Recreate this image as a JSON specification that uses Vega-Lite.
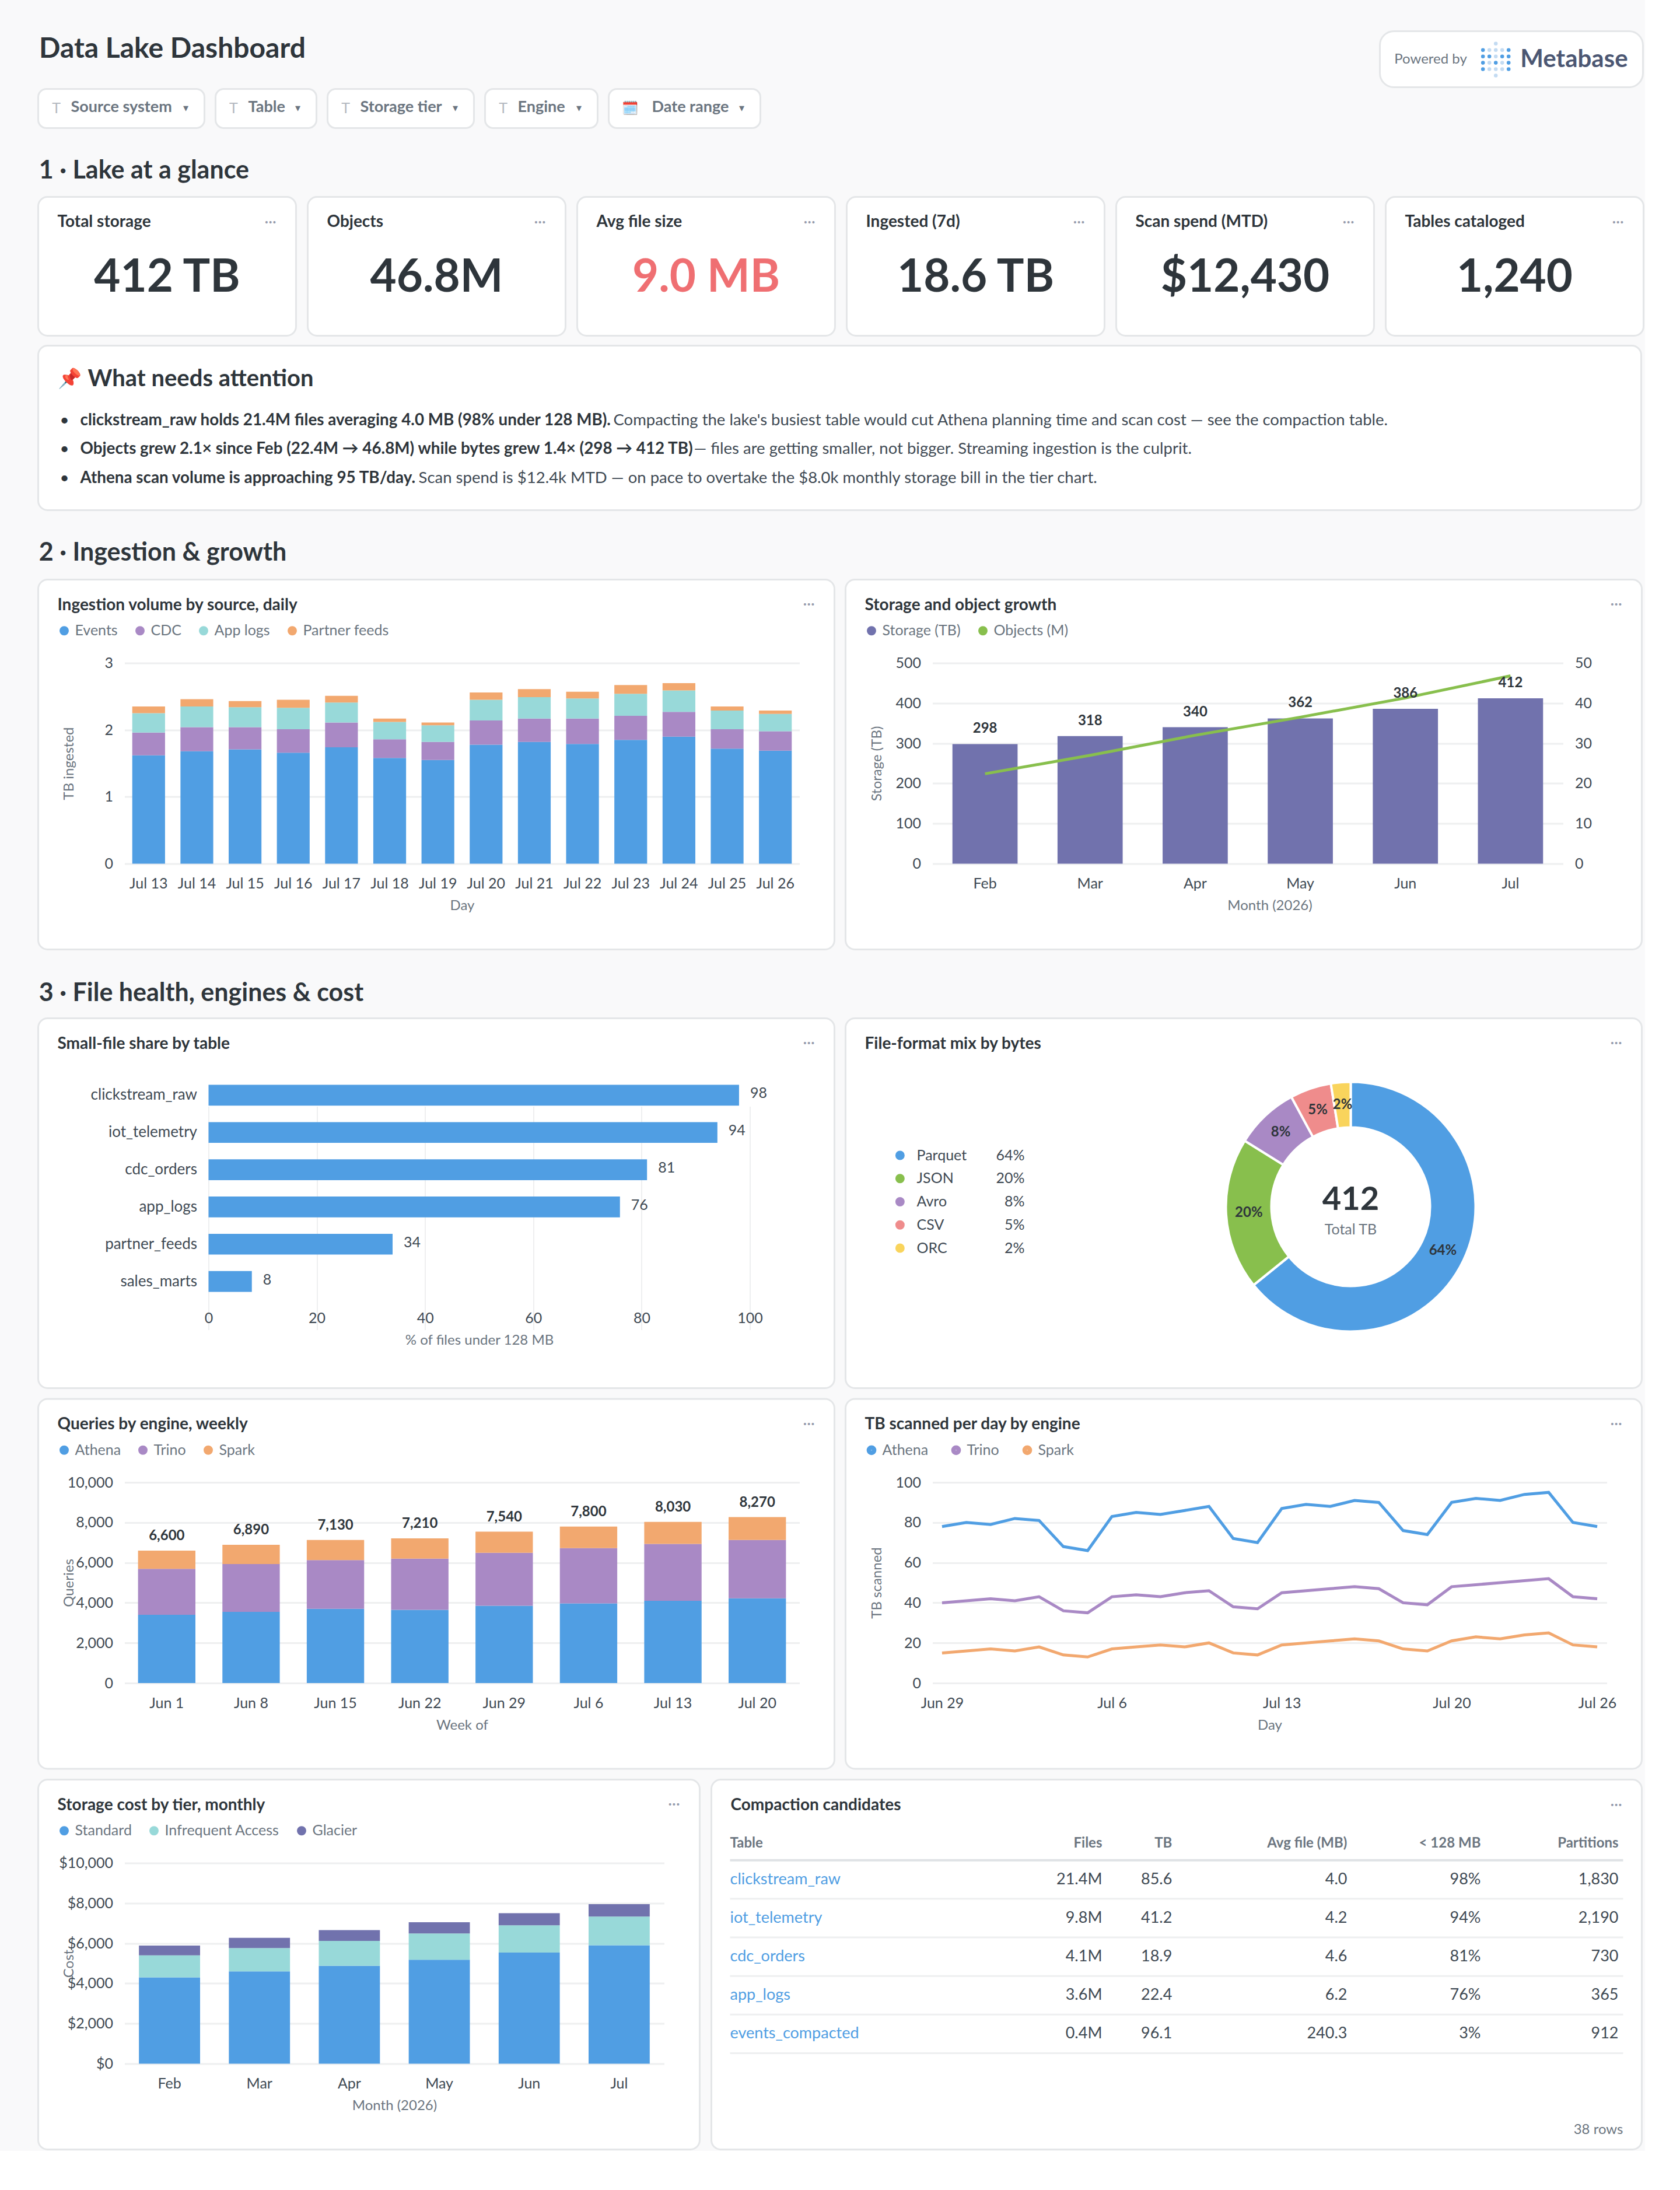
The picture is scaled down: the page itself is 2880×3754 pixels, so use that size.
{
  "$schema": "https://vega.github.io/schema/vega-lite/v6.json",
  "background": "#f9f9fa",
  "padding": {"left": 63.5, "top": 51.5, "right": 0, "bottom": 0},
  "config": {
    "font": "Lato",
    "view": {"stroke": null},
    "text": {"font": "Lato"},
    "title": {"font": "Lato", "anchor": "start", "frame": "group", "offset": 0, "baseline": "middle", "dx": 33, "fontSize": 28, "fontWeight": 700, "color": "#2e353b"},
    "axis": {"domain": false, "ticks": false, "labelFont": "Lato", "labelFontSize": 25, "labelColor": "#3f4a54", "titleFont": "Lato", "titleFontSize": 24, "titleFontWeight": "normal", "titleColor": "#6b7580", "gridColor": "#eeeff0", "gridWidth": 3, "labelOverlap": false, "labelFlush": false, "labelLimit": 400},
    "axisX": {"labelPadding": 22, "titlePadding": 13, "labelAngle": 0, "grid": false},
    "axisY": {"labelPadding": 20, "titleX": -95, "titleBaseline": "middle", "grid": true},
    "legend": {"symbolType": "circle", "symbolSize": 254, "labelFont": "Lato", "labelFontSize": 25, "labelColor": "#6b7580", "labelOffset": 6, "labelLimit": 400, "columnPadding": 25, "padding": 0}
  },
  "spacing": 0,
  "resolve": {"scale": {"color": "independent"}, "legend": {"color": "independent"}},
  "vconcat": [
    {
      "spacing": 0,
      "resolve": {"scale": {"color": "independent"}, "legend": {"color": "independent"}},
      "hconcat": [
        {
          "spacing": 0,
          "vconcat": [
            {
              "width": 2298,
              "height": 97,
              "data": {"values": [{"label": "Data Lake Dashboard"}]},
              "mark": {"type": "text", "align": "left", "fontSize": 48, "fontWeight": 700, "color": "#2e353b"},
              "encoding": {
                "text": {"field": "label"},
                "x": {"datum": 0.00065, "scale": {"domain": [0, 1], "range": [0, 2298]}, "axis": null},
                "y": {"datum": 0.325, "scale": {"domain": [0, 1], "range": [0, 97]}, "axis": null}
              }
            },
            {
              "spacing": 15,
              "hconcat": [
                {
                  "title": {"text": "Source system", "dx": 56, "dy": 49, "fontSize": 27, "color": "#6b7580"},
                  "width": 285,
                  "height": 67,
                  "view": {"fill": "#ffffff", "stroke": "#e4e6e8", "strokeWidth": 3, "cornerRadius": 14},
                  "data": {"values": [{"t": "T", "c": "▾"}]},
                  "encoding": {"y": {"datum": 0.5, "scale": {"domain": [0, 1], "range": [0, 67]}, "axis": null}},
                  "layer": [
                    {"mark": {"type": "text", "fontSize": 25, "color": "#b4b9c0"}, "encoding": {"text": {"field": "t"}, "x": {"datum": 0.109, "scale": {"domain": [0, 1], "range": [0, 285]}, "axis": null}}},
                    {"mark": {"type": "text", "fontSize": 18, "color": "#6b7580"}, "encoding": {"text": {"field": "c"}, "x": {"datum": 0.888}}}
                  ]
                },
                {
                  "title": {"text": "Table", "dx": 56, "dy": 49, "fontSize": 27, "color": "#6b7580"},
                  "width": 173,
                  "height": 67,
                  "view": {"fill": "#ffffff", "stroke": "#e4e6e8", "strokeWidth": 3, "cornerRadius": 14},
                  "data": {"values": [{"t": "T", "c": "▾"}]},
                  "encoding": {"y": {"datum": 0.5, "scale": {"domain": [0, 1], "range": [0, 67]}, "axis": null}},
                  "layer": [
                    {"mark": {"type": "text", "fontSize": 25, "color": "#b4b9c0"}, "encoding": {"text": {"field": "t"}, "x": {"datum": 0.179, "scale": {"domain": [0, 1], "range": [0, 173]}, "axis": null}}},
                    {"mark": {"type": "text", "fontSize": 18, "color": "#6b7580"}, "encoding": {"text": {"field": "c"}, "x": {"datum": 0.815}}}
                  ]
                },
                {
                  "title": {"text": "Storage tier", "dx": 56, "dy": 49, "fontSize": 27, "color": "#6b7580"},
                  "width": 251,
                  "height": 67,
                  "view": {"fill": "#ffffff", "stroke": "#e4e6e8", "strokeWidth": 3, "cornerRadius": 14},
                  "data": {"values": [{"t": "T", "c": "▾"}]},
                  "encoding": {"y": {"datum": 0.5, "scale": {"domain": [0, 1], "range": [0, 67]}, "axis": null}},
                  "layer": [
                    {"mark": {"type": "text", "fontSize": 25, "color": "#b4b9c0"}, "encoding": {"text": {"field": "t"}, "x": {"datum": 0.124, "scale": {"domain": [0, 1], "range": [0, 251]}, "axis": null}}},
                    {"mark": {"type": "text", "fontSize": 18, "color": "#6b7580"}, "encoding": {"text": {"field": "c"}, "x": {"datum": 0.873}}}
                  ]
                },
                {
                  "title": {"text": "Engine", "dx": 56, "dy": 49, "fontSize": 27, "color": "#6b7580"},
                  "width": 193,
                  "height": 67,
                  "view": {"fill": "#ffffff", "stroke": "#e4e6e8", "strokeWidth": 3, "cornerRadius": 14},
                  "data": {"values": [{"t": "T", "c": "▾"}]},
                  "encoding": {"y": {"datum": 0.5, "scale": {"domain": [0, 1], "range": [0, 67]}, "axis": null}},
                  "layer": [
                    {"mark": {"type": "text", "fontSize": 25, "color": "#b4b9c0"}, "encoding": {"text": {"field": "t"}, "x": {"datum": 0.161, "scale": {"domain": [0, 1], "range": [0, 193]}, "axis": null}}},
                    {"mark": {"type": "text", "fontSize": 18, "color": "#6b7580"}, "encoding": {"text": {"field": "c"}, "x": {"datum": 0.834}}}
                  ]
                },
                {
                  "title": {"text": "Date range", "dx": 74, "dy": 49, "fontSize": 27, "color": "#6b7580"},
                  "width": 260,
                  "height": 67,
                  "view": {"fill": "#ffffff", "stroke": "#e4e6e8", "strokeWidth": 3, "cornerRadius": 14},
                  "data": {"values": [{"t": "🗓️", "c": "▾"}]},
                  "encoding": {"y": {"datum": 0.5, "scale": {"domain": [0, 1], "range": [0, 67]}, "axis": null}},
                  "layer": [
                    {"mark": {"type": "text", "fontSize": 23}, "encoding": {"text": {"field": "t"}, "x": {"datum": 0.142, "scale": {"domain": [0, 1], "range": [0, 260]}, "axis": null}}},
                    {"mark": {"type": "text", "fontSize": 18, "color": "#6b7580"}, "encoding": {"text": {"field": "c"}, "x": {"datum": 0.877}}}
                  ]
                }
              ]
            }
          ]
        },
        {
          "width": 451,
          "height": 96,
          "view": {"fill": "#ffffff", "stroke": "#e4e6e8", "strokeWidth": 3, "cornerRadius": 24},
          "resolve": {"scale": {"x": "independent", "y": "independent"}},
          "layer": [
            {
              "data": {"values": [
                {"col": 2, "row": 0, "shade": "light"},
                {"col": 0, "row": 1, "shade": "dark"}, {"col": 1, "row": 1, "shade": "light"}, {"col": 2, "row": 1, "shade": "light"}, {"col": 3, "row": 1, "shade": "light"}, {"col": 4, "row": 1, "shade": "dark"},
                {"col": 0, "row": 2, "shade": "dark"}, {"col": 1, "row": 2, "shade": "dark"}, {"col": 2, "row": 2, "shade": "light"}, {"col": 3, "row": 2, "shade": "dark"}, {"col": 4, "row": 2, "shade": "dark"},
                {"col": 0, "row": 3, "shade": "dark"}, {"col": 1, "row": 3, "shade": "light"}, {"col": 2, "row": 3, "shade": "dark"}, {"col": 3, "row": 3, "shade": "light"}, {"col": 4, "row": 3, "shade": "dark"},
                {"col": 0, "row": 4, "shade": "dark"}, {"col": 1, "row": 4, "shade": "light"}, {"col": 2, "row": 4, "shade": "light"}, {"col": 3, "row": 4, "shade": "light"}, {"col": 4, "row": 4, "shade": "dark"},
                {"col": 2, "row": 5, "shade": "light"}
              ]},
              "mark": {"type": "point", "filled": true, "size": 43, "opacity": 1},
              "encoding": {
                "x": {"field": "col", "type": "quantitative", "scale": {"domain": [0, 4], "range": [176.7, 220.7]}, "axis": null},
                "y": {"field": "row", "type": "quantitative", "scale": {"domain": [0, 5], "range": [21.3, 76]}, "axis": null},
                "color": {"field": "shade", "type": "nominal", "scale": {"domain": ["dark", "light"], "range": ["#509ee3", "#c3dbf2"]}, "legend": null}
              }
            },
            {
              "data": {"values": [{"a": "Powered by", "b": "Metabase"}]},
              "encoding": {"y": {"datum": 0.51, "scale": {"domain": [0, 1], "range": [0, 96]}, "axis": null}},
              "layer": [
                {"mark": {"type": "text", "fontSize": 24, "color": "#6b7580"}, "encoding": {"text": {"field": "a"}, "x": {"datum": 0.193, "scale": {"domain": [0, 1], "range": [0, 451]}, "axis": null}}},
                {"mark": {"type": "text", "align": "left", "fontSize": 42, "fontWeight": 700, "color": "#4c5773"}, "encoding": {"text": {"field": "b"}, "x": {"datum": 0.534}}}
              ]
            }
          ]
        }
      ]
    },
    {
      "width": 2748,
      "height": 114,
      "data": {"values": [{"label": "1 · Lake at a glance"}]},
      "mark": {"type": "text", "align": "left", "fontSize": 43, "fontWeight": 700, "color": "#2e353b"},
      "encoding": {
        "text": {"field": "label"},
        "x": {"datum": 0.0005, "scale": {"domain": [0, 1], "range": [0, 2748]}, "axis": null},
        "y": {"datum": 0.627, "scale": {"domain": [0, 1], "range": [0, 114]}, "axis": null}
      }
    },
    {
      "spacing": 13,
      "vconcat": [
        {
          "spacing": 16,
          "hconcat": [
            {
              "title": {"text": "Total storage", "dy": 61},
              "width": 442, "height": 238,
              "view": {"fill": "#ffffff", "stroke": "#e4e6e8", "strokeWidth": 3, "cornerRadius": 16},
              "data": {"values": [{"value": "412 TB", "menu": "···"}]},
              "layer": [
                {"mark": {"type": "text", "fontSize": 78, "fontWeight": 700, "color": "#2e353b"}, "encoding": {"text": {"field": "value"}, "x": {"datum": 0.5, "scale": {"domain": [0, 1], "range": [0, 442]}, "axis": null}, "y": {"datum": 0.585, "scale": {"domain": [0, 1], "range": [0, 238]}, "axis": null}}},
                {"mark": {"type": "text", "fontSize": 26, "color": "#949aab"}, "encoding": {"text": {"field": "menu"}, "x": {"datum": 0.9005}, "y": {"datum": 0.1807}}}
              ]
            },
            {
              "title": {"text": "Objects", "dy": 61},
              "width": 442, "height": 238,
              "view": {"fill": "#ffffff", "stroke": "#e4e6e8", "strokeWidth": 3, "cornerRadius": 16},
              "data": {"values": [{"value": "46.8M", "menu": "···"}]},
              "layer": [
                {"mark": {"type": "text", "fontSize": 78, "fontWeight": 700, "color": "#2e353b"}, "encoding": {"text": {"field": "value"}, "x": {"datum": 0.5, "scale": {"domain": [0, 1], "range": [0, 442]}, "axis": null}, "y": {"datum": 0.585, "scale": {"domain": [0, 1], "range": [0, 238]}, "axis": null}}},
                {"mark": {"type": "text", "fontSize": 26, "color": "#949aab"}, "encoding": {"text": {"field": "menu"}, "x": {"datum": 0.9005}, "y": {"datum": 0.1807}}}
              ]
            },
            {
              "title": {"text": "Avg file size", "dy": 61},
              "width": 442, "height": 238,
              "view": {"fill": "#ffffff", "stroke": "#e4e6e8", "strokeWidth": 3, "cornerRadius": 16},
              "data": {"values": [{"value": "9.0 MB", "menu": "···"}]},
              "layer": [
                {"mark": {"type": "text", "fontSize": 78, "fontWeight": 700, "color": "#ef6f72"}, "encoding": {"text": {"field": "value"}, "x": {"datum": 0.5, "scale": {"domain": [0, 1], "range": [0, 442]}, "axis": null}, "y": {"datum": 0.585, "scale": {"domain": [0, 1], "range": [0, 238]}, "axis": null}}},
                {"mark": {"type": "text", "fontSize": 26, "color": "#949aab"}, "encoding": {"text": {"field": "menu"}, "x": {"datum": 0.9005}, "y": {"datum": 0.1807}}}
              ]
            },
            {
              "title": {"text": "Ingested (7d)", "dy": 61},
              "width": 442, "height": 238,
              "view": {"fill": "#ffffff", "stroke": "#e4e6e8", "strokeWidth": 3, "cornerRadius": 16},
              "data": {"values": [{"value": "18.6 TB", "menu": "···"}]},
              "layer": [
                {"mark": {"type": "text", "fontSize": 78, "fontWeight": 700, "color": "#2e353b"}, "encoding": {"text": {"field": "value"}, "x": {"datum": 0.5, "scale": {"domain": [0, 1], "range": [0, 442]}, "axis": null}, "y": {"datum": 0.585, "scale": {"domain": [0, 1], "range": [0, 238]}, "axis": null}}},
                {"mark": {"type": "text", "fontSize": 26, "color": "#949aab"}, "encoding": {"text": {"field": "menu"}, "x": {"datum": 0.9005}, "y": {"datum": 0.1807}}}
              ]
            },
            {
              "title": {"text": "Scan spend (MTD)", "dy": 61},
              "width": 442, "height": 238,
              "view": {"fill": "#ffffff", "stroke": "#e4e6e8", "strokeWidth": 3, "cornerRadius": 16},
              "data": {"values": [{"value": "$12,430", "menu": "···"}]},
              "layer": [
                {"mark": {"type": "text", "fontSize": 78, "fontWeight": 700, "color": "#2e353b"}, "encoding": {"text": {"field": "value"}, "x": {"datum": 0.5, "scale": {"domain": [0, 1], "range": [0, 442]}, "axis": null}, "y": {"datum": 0.585, "scale": {"domain": [0, 1], "range": [0, 238]}, "axis": null}}},
                {"mark": {"type": "text", "fontSize": 26, "color": "#949aab"}, "encoding": {"text": {"field": "menu"}, "x": {"datum": 0.9005}, "y": {"datum": 0.1807}}}
              ]
            },
            {
              "title": {"text": "Tables cataloged", "dy": 61},
              "width": 442, "height": 238,
              "view": {"fill": "#ffffff", "stroke": "#e4e6e8", "strokeWidth": 3, "cornerRadius": 16},
              "data": {"values": [{"value": "1,240", "menu": "···"}]},
              "layer": [
                {"mark": {"type": "text", "fontSize": 78, "fontWeight": 700, "color": "#2e353b"}, "encoding": {"text": {"field": "value"}, "x": {"datum": 0.5, "scale": {"domain": [0, 1], "range": [0, 442]}, "axis": null}, "y": {"datum": 0.585, "scale": {"domain": [0, 1], "range": [0, 238]}, "axis": null}}},
                {"mark": {"type": "text", "fontSize": 26, "color": "#949aab"}, "encoding": {"text": {"field": "menu"}, "x": {"datum": 0.9005}, "y": {"datum": 0.1807}}}
              ]
            }
          ]
        },
        {
          "title": {"text": "What needs attention", "dx": 85, "dy": 81, "fontSize": 40, "fontWeight": 700},
          "width": 2748, "height": 282,
          "view": {"fill": "#ffffff", "stroke": "#e4e6e8", "strokeWidth": 3, "cornerRadius": 16},
          "data": {"values": [
            {"line": 1, "bullet": "•", "lead": "clickstream_raw holds 21.4M files averaging 4.0 MB (98% under 128 MB).", "rest": "Compacting the lake's busiest table would cut Athena planning time and scan cost — see the compaction table."},
            {"line": 2, "bullet": "•", "lead": "Objects grew 2.1× since Feb (22.4M → 46.8M) while bytes grew 1.4× (298 → 412 TB)", "rest": "— files are getting smaller, not bigger. Streaming ingestion is the culprit."},
            {"line": 3, "bullet": "•", "lead": "Athena scan volume is approaching 95 TB/day.", "rest": "Scan spend is $12.4k MTD — on pace to overtake the $8.0k monthly storage bill in the tier chart."}
          ]},
          "encoding": {"y": {"field": "line", "type": "ordinal", "scale": {"type": "point", "padding": 0, "range": [128, 227]}, "axis": null}},
          "layer": [
            {"transform": [{"filter": {"field": "line", "equal": 1}}], "mark": {"type": "text", "text": "📌", "dy": -71, "fontSize": 33}, "encoding": {"x": {"datum": 0.0197, "scale": {"domain": [0, 1], "range": [0, 2748]}, "axis": null}}},
            {"mark": {"type": "text", "fontSize": 27.7, "color": "#2e353b"}, "encoding": {"text": {"field": "bullet"}, "x": {"datum": 0.0164}}},
            {"mark": {"type": "text", "align": "left", "fontSize": 27.8, "fontWeight": 700, "color": "#2e353b"}, "encoding": {"text": {"field": "lead"}, "x": {"datum": 0.0262}}},
            {"transform": [{"filter": {"field": "line", "equal": 1}}], "mark": {"type": "text", "align": "left", "fontSize": 27.5, "color": "#3f4a54"}, "encoding": {"text": {"field": "rest"}, "x": {"datum": 0.3588}}},
            {"transform": [{"filter": {"field": "line", "equal": 2}}], "mark": {"type": "text", "align": "left", "fontSize": 27.5, "color": "#3f4a54"}, "encoding": {"text": {"field": "rest"}, "x": {"datum": 0.409}}},
            {"transform": [{"filter": {"field": "line", "equal": 3}}], "mark": {"type": "text", "align": "left", "fontSize": 27.5, "color": "#3f4a54"}, "encoding": {"text": {"field": "rest"}, "x": {"datum": 0.2373}}}
          ]
        }
      ]
    },
    {
      "width": 2748,
      "height": 115,
      "data": {"values": [{"label": "2 · Ingestion & growth"}]},
      "mark": {"type": "text", "align": "left", "fontSize": 43, "fontWeight": 700, "color": "#2e353b"},
      "encoding": {
        "text": {"field": "label"},
        "x": {"datum": 0.0005, "scale": {"domain": [0, 1], "range": [0, 2748]}, "axis": null},
        "y": {"datum": 0.626, "scale": {"domain": [0, 1], "range": [0, 115]}, "axis": null}
      }
    },
    {
      "spacing": 15,
      "resolve": {"scale": {"color": "independent"}, "legend": {"color": "independent"}},
      "hconcat": [
        {
          "title": {"text": "Ingestion volume by source, daily", "dy": 62},
          "width": 1365, "height": 634,
          "view": {"fill": "#ffffff", "stroke": "#e4e6e8", "strokeWidth": 3, "cornerRadius": 16},
          "resolve": {"scale": {"x": "independent", "y": "independent"}},
          "layer": [
            {
              "data": {"values": [
                {"day": "Jul 13", "source": "Events", "tb": 1.62, "o": 1}, {"day": "Jul 13", "source": "CDC", "tb": 0.34, "o": 2}, {"day": "Jul 13", "source": "App logs", "tb": 0.29, "o": 3}, {"day": "Jul 13", "source": "Partner feeds", "tb": 0.10, "o": 4},
                {"day": "Jul 14", "source": "Events", "tb": 1.68, "o": 1}, {"day": "Jul 14", "source": "CDC", "tb": 0.36, "o": 2}, {"day": "Jul 14", "source": "App logs", "tb": 0.31, "o": 3}, {"day": "Jul 14", "source": "Partner feeds", "tb": 0.11, "o": 4},
                {"day": "Jul 15", "source": "Events", "tb": 1.71, "o": 1}, {"day": "Jul 15", "source": "CDC", "tb": 0.33, "o": 2}, {"day": "Jul 15", "source": "App logs", "tb": 0.30, "o": 3}, {"day": "Jul 15", "source": "Partner feeds", "tb": 0.09, "o": 4},
                {"day": "Jul 16", "source": "Events", "tb": 1.66, "o": 1}, {"day": "Jul 16", "source": "CDC", "tb": 0.35, "o": 2}, {"day": "Jul 16", "source": "App logs", "tb": 0.32, "o": 3}, {"day": "Jul 16", "source": "Partner feeds", "tb": 0.12, "o": 4},
                {"day": "Jul 17", "source": "Events", "tb": 1.74, "o": 1}, {"day": "Jul 17", "source": "CDC", "tb": 0.37, "o": 2}, {"day": "Jul 17", "source": "App logs", "tb": 0.30, "o": 3}, {"day": "Jul 17", "source": "Partner feeds", "tb": 0.10, "o": 4},
                {"day": "Jul 18", "source": "Events", "tb": 1.58, "o": 1}, {"day": "Jul 18", "source": "CDC", "tb": 0.28, "o": 2}, {"day": "Jul 18", "source": "App logs", "tb": 0.26, "o": 3}, {"day": "Jul 18", "source": "Partner feeds", "tb": 0.05, "o": 4},
                {"day": "Jul 19", "source": "Events", "tb": 1.55, "o": 1}, {"day": "Jul 19", "source": "CDC", "tb": 0.27, "o": 2}, {"day": "Jul 19", "source": "App logs", "tb": 0.25, "o": 3}, {"day": "Jul 19", "source": "Partner feeds", "tb": 0.04, "o": 4},
                {"day": "Jul 20", "source": "Events", "tb": 1.78, "o": 1}, {"day": "Jul 20", "source": "CDC", "tb": 0.36, "o": 2}, {"day": "Jul 20", "source": "App logs", "tb": 0.31, "o": 3}, {"day": "Jul 20", "source": "Partner feeds", "tb": 0.11, "o": 4},
                {"day": "Jul 21", "source": "Events", "tb": 1.82, "o": 1}, {"day": "Jul 21", "source": "CDC", "tb": 0.35, "o": 2}, {"day": "Jul 21", "source": "App logs", "tb": 0.32, "o": 3}, {"day": "Jul 21", "source": "Partner feeds", "tb": 0.12, "o": 4},
                {"day": "Jul 22", "source": "Events", "tb": 1.79, "o": 1}, {"day": "Jul 22", "source": "CDC", "tb": 0.38, "o": 2}, {"day": "Jul 22", "source": "App logs", "tb": 0.30, "o": 3}, {"day": "Jul 22", "source": "Partner feeds", "tb": 0.10, "o": 4},
                {"day": "Jul 23", "source": "Events", "tb": 1.85, "o": 1}, {"day": "Jul 23", "source": "CDC", "tb": 0.36, "o": 2}, {"day": "Jul 23", "source": "App logs", "tb": 0.33, "o": 3}, {"day": "Jul 23", "source": "Partner feeds", "tb": 0.13, "o": 4},
                {"day": "Jul 24", "source": "Events", "tb": 1.90, "o": 1}, {"day": "Jul 24", "source": "CDC", "tb": 0.37, "o": 2}, {"day": "Jul 24", "source": "App logs", "tb": 0.32, "o": 3}, {"day": "Jul 24", "source": "Partner feeds", "tb": 0.11, "o": 4},
                {"day": "Jul 25", "source": "Events", "tb": 1.72, "o": 1}, {"day": "Jul 25", "source": "CDC", "tb": 0.29, "o": 2}, {"day": "Jul 25", "source": "App logs", "tb": 0.28, "o": 3}, {"day": "Jul 25", "source": "Partner feeds", "tb": 0.06, "o": 4},
                {"day": "Jul 26", "source": "Events", "tb": 1.69, "o": 1}, {"day": "Jul 26", "source": "CDC", "tb": 0.29, "o": 2}, {"day": "Jul 26", "source": "App logs", "tb": 0.26, "o": 3}, {"day": "Jul 26", "source": "Partner feeds", "tb": 0.05, "o": 4}
              ]},
              "mark": {"type": "bar"},
              "encoding": {
                "x": {"field": "day", "type": "nominal", "sort": null, "title": "Day", "scale": {"range": [148, 1305], "paddingInner": 0.32, "paddingOuter": 0.16}, "axis": {"offset": -147}},
                "y": {"field": "tb", "type": "quantitative", "title": "TB ingested", "scale": {"domain": [0, 3], "range": [487, 143]}, "axis": {"values": [0, 1, 2, 3], "offset": -148}},
                "color": {"field": "source", "type": "nominal", "scale": {"domain": ["Events", "CDC", "App logs", "Partner feeds"], "range": ["#509ee3", "#a989c5", "#98d9d9", "#f2a86f"]}, "legend": {"title": null, "orient": "none", "direction": "horizontal", "legendX": 32, "legendY": 75}},
                "order": {"field": "o"}
              }
            },
            {
              "data": {"values": [{"menu": "···"}]},
              "mark": {"type": "text", "fontSize": 26, "color": "#949aab"},
              "encoding": {
                "text": {"field": "menu"},
                "x": {"datum": 0.9678, "scale": {"domain": [0, 1], "range": [0, 1365]}, "axis": null},
                "y": {"datum": 0.0678, "scale": {"domain": [0, 1], "range": [0, 634]}, "axis": null}
              }
            }
          ]
        },
        {
          "title": {"text": "Storage and object growth", "dy": 62},
          "width": 1365, "height": 634,
          "view": {"fill": "#ffffff", "stroke": "#e4e6e8", "strokeWidth": 3, "cornerRadius": 16},
          "resolve": {"scale": {"x": "independent", "y": "independent"}},
          "layer": [
            {
              "data": {"values": [
                {"month": "Feb", "storage": 298, "objects": 22.4},
                {"month": "Mar", "storage": 318, "objects": 27},
                {"month": "Apr", "storage": 340, "objects": 32},
                {"month": "May", "storage": 362, "objects": 36.5},
                {"month": "Jun", "storage": 386, "objects": 41.3},
                {"month": "Jul", "storage": 412, "objects": 46.8}
              ]},
              "encoding": {
                "x": {"field": "month", "type": "nominal", "sort": null, "title": "Month (2026)", "scale": {"range": [149, 1230], "paddingInner": 0.38, "paddingOuter": 0.19}, "axis": {"offset": -147, "titleX": 727}}
              },
              "resolve": {"scale": {"y": "independent"}},
              "layer": [
                {
                  "mark": {"type": "bar"},
                  "encoding": {
                    "y": {"field": "storage", "type": "quantitative", "title": "Storage (TB)", "scale": {"domain": [0, 500], "range": [487, 143]}, "axis": {"values": [0, 100, 200, 300, 400, 500], "offset": -149}},
                    "color": {"datum": "Storage (TB)", "scale": {"domain": ["Storage (TB)", "Objects (M)"], "range": ["#7172ad", "#88bf4d"]}, "legend": {"title": null, "orient": "none", "direction": "horizontal", "legendX": 32, "legendY": 75}}
                  }
                },
                {
                  "mark": {"type": "line", "stroke": "#88bf4d", "strokeWidth": 5},
                  "encoding": {
                    "y": {"field": "objects", "type": "quantitative", "title": null, "scale": {"domain": [0, 50], "range": [487, 143]}, "axis": {"orient": "right", "values": [0, 10, 20, 30, 40, 50], "offset": -135, "grid": false}}
                  }
                },
                {
                  "mark": {"type": "text", "dy": -26, "fontSize": 24, "fontWeight": 700, "color": "#2e353b"},
                  "encoding": {
                    "y": {"field": "storage", "type": "quantitative", "scale": {"domain": [0, 500], "range": [487, 143]}, "axis": null},
                    "text": {"field": "storage"}
                  }
                }
              ]
            },
            {
              "data": {"values": [{"menu": "···"}]},
              "mark": {"type": "text", "fontSize": 26, "color": "#949aab"},
              "encoding": {
                "text": {"field": "menu"},
                "x": {"datum": 0.9678, "scale": {"domain": [0, 1], "range": [0, 1365]}, "axis": null},
                "y": {"datum": 0.0678, "scale": {"domain": [0, 1], "range": [0, 634]}, "axis": null}
              }
            }
          ]
        }
      ]
    },
    {
      "width": 2748,
      "height": 114,
      "data": {"values": [{"label": "3 · File health, engines & cost"}]},
      "mark": {"type": "text", "align": "left", "fontSize": 43, "fontWeight": 700, "color": "#2e353b"},
      "encoding": {
        "text": {"field": "label"},
        "x": {"datum": 0.0005, "scale": {"domain": [0, 1], "range": [0, 2748]}, "axis": null},
        "y": {"datum": 0.649, "scale": {"domain": [0, 1], "range": [0, 114]}, "axis": null}
      }
    },
    {
      "spacing": 14.5,
      "resolve": {"scale": {"color": "independent"}, "legend": {"color": "independent"}},
      "vconcat": [
        {
          "spacing": 15,
          "resolve": {"scale": {"color": "independent"}, "legend": {"color": "independent"}},
          "hconcat": [
            {
              "title": {"text": "Small-file share by table", "dy": 62},
              "width": 1365, "height": 634,
              "view": {"fill": "#ffffff", "stroke": "#e4e6e8", "strokeWidth": 3, "cornerRadius": 16},
              "resolve": {"scale": {"x": "independent", "y": "independent"}},
              "layer": [
                {
                  "data": {"values": [
                    {"table": "clickstream_raw", "share": 98},
                    {"table": "iot_telemetry", "share": 94},
                    {"table": "cdc_orders", "share": 81},
                    {"table": "app_logs", "share": 76},
                    {"table": "partner_feeds", "share": 34},
                    {"table": "sales_marts", "share": 8}
                  ]},
                  "encoding": {
                    "x": {"field": "share", "type": "quantitative", "title": "% of files under 128 MB", "scale": {"domain": [0, 100], "range": [292, 1220]}, "axis": {"values": [0, 20, 40, 60, 80, 100], "offset": -151, "grid": true, "labelPadding": 19, "gridWidth": 2}},
                    "y": {"field": "table", "type": "nominal", "sort": null, "title": null, "scale": {"range": [100, 483], "paddingInner": 0.44, "paddingOuter": 0.22}, "axis": {"offset": -292, "grid": false, "labelFontSize": 26}}
                  },
                  "layer": [
                    {"mark": {"type": "bar", "color": "#509ee3"}},
                    {"mark": {"type": "text", "align": "left", "dx": 19, "dy": -3, "fontSize": 25, "color": "#3f4a54"}, "encoding": {"text": {"field": "share"}}}
                  ]
                },
                {
                  "data": {"values": [{"menu": "···"}]},
                  "mark": {"type": "text", "fontSize": 26, "color": "#949aab"},
                  "encoding": {
                    "text": {"field": "menu"},
                    "x": {"datum": 0.9678, "scale": {"domain": [0, 1], "range": [0, 1365]}, "axis": null},
                    "y": {"datum": 0.0678, "scale": {"domain": [0, 1], "range": [0, 634]}, "axis": null}
                  }
                }
              ]
            },
            {
              "title": {"text": "File-format mix by bytes", "dy": 62},
              "width": 1365, "height": 634,
              "view": {"fill": "#ffffff", "stroke": "#e4e6e8", "strokeWidth": 3, "cornerRadius": 16},
              "resolve": {"scale": {"x": "independent", "y": "independent", "color": "independent"}},
              "layer": [
                {
                  "data": {"values": [
                    {"format": "Parquet", "tb": 264.5, "pct": "64%", "o": 1},
                    {"format": "JSON", "tb": 81, "pct": "20%", "o": 2},
                    {"format": "Avro", "tb": 34, "pct": "8%", "o": 3},
                    {"format": "CSV", "tb": 22, "pct": "5%", "o": 4},
                    {"format": "ORC", "tb": 10.5, "pct": "2%", "o": 5}
                  ]},
                  "encoding": {
                    "y": {"field": "format", "type": "nominal", "sort": null, "scale": {"type": "point", "padding": 0, "range": [235, 394]}, "axis": null}
                  },
                  "layer": [
                    {"mark": {"type": "point", "filled": true, "size": 254, "opacity": 1}, "encoding": {"x": {"datum": 0.0684, "scale": {"domain": [0, 1], "range": [0, 1365]}, "axis": null}, "color": {"field": "format", "type": "nominal", "sort": null, "scale": {"domain": ["Parquet", "JSON", "Avro", "CSV", "ORC"], "range": ["#509ee3", "#88bf4d", "#a989c5", "#ef8c8c", "#f9d45c"]}, "legend": null}}},
                    {"mark": {"type": "text", "align": "left", "fontSize": 25, "color": "#3f4a54"}, "encoding": {"text": {"field": "format"}, "x": {"datum": 0.0894}}},
                    {"mark": {"type": "text", "align": "right", "fontSize": 25, "color": "#3f4a54"}, "encoding": {"text": {"field": "pct"}, "x": {"datum": 0.2249}}}
                  ]
                },
                {
                  "data": {"values": [
                    {"format": "Parquet", "tb": 264.5, "pct": "64%", "o": 1},
                    {"format": "JSON", "tb": 81, "pct": "20%", "o": 2},
                    {"format": "Avro", "tb": 34, "pct": "8%", "o": 3},
                    {"format": "CSV", "tb": 22, "pct": "5%", "o": 4},
                    {"format": "ORC", "tb": 10.5, "pct": "2%", "o": 5}
                  ]},
                  "encoding": {
                    "x": {"datum": 1, "scale": {"domain": [0, 1], "range": [0, 866]}, "axis": null},
                    "y": {"datum": 1, "scale": {"domain": [0, 1], "range": [0, 323]}, "axis": null},
                    "theta": {"field": "tb", "type": "quantitative", "stack": true},
                    "order": {"field": "o"}
                  },
                  "layer": [
                    {"mark": {"type": "arc", "innerRadius": 136, "outerRadius": 214, "stroke": "#ffffff", "strokeWidth": 4}, "encoding": {"color": {"field": "format", "type": "nominal", "sort": null, "scale": {"domain": ["Parquet", "JSON", "Avro", "CSV", "ORC"], "range": ["#509ee3", "#88bf4d", "#a989c5", "#ef8c8c", "#f9d45c"]}, "legend": null}}},
                    {"mark": {"type": "text", "radius": 175, "fontSize": 24, "fontWeight": 700, "color": "#2e353b"}, "encoding": {"text": {"field": "pct"}}}
                  ]
                },
                {
                  "data": {"values": [{"total": "412", "label": "Total TB"}]},
                  "encoding": {
                    "x": {"datum": 1, "scale": {"domain": [0, 1], "range": [0, 866]}, "axis": null},
                    "y": {"datum": 1, "scale": {"domain": [0, 1], "range": [0, 323]}, "axis": null}
                  },
                  "layer": [
                    {"mark": {"type": "text", "dy": -12, "fontSize": 56, "fontWeight": 700, "color": "#2e353b"}, "encoding": {"text": {"field": "total"}}},
                    {"mark": {"type": "text", "dy": 39, "fontSize": 25, "color": "#6b7580"}, "encoding": {"text": {"field": "label"}}}
                  ]
                },
                {
                  "data": {"values": [{"menu": "···"}]},
                  "mark": {"type": "text", "fontSize": 26, "color": "#949aab"},
                  "encoding": {
                    "text": {"field": "menu"},
                    "x": {"datum": 0.9678, "scale": {"domain": [0, 1], "range": [0, 1365]}, "axis": null},
                    "y": {"datum": 0.0678, "scale": {"domain": [0, 1], "range": [0, 634]}, "axis": null}
                  }
                }
              ]
            }
          ]
        },
        {
          "spacing": 15,
          "resolve": {"scale": {"color": "independent"}, "legend": {"color": "independent"}},
          "hconcat": [
            {
              "title": {"text": "Queries by engine, weekly", "dy": 62},
              "width": 1365, "height": 634,
              "view": {"fill": "#ffffff", "stroke": "#e4e6e8", "strokeWidth": 3, "cornerRadius": 16},
              "resolve": {"scale": {"x": "independent", "y": "independent"}},
              "layer": [
                {
                  "data": {"values": [
                    {"week": "Jun 1", "engine": "Athena", "queries": 3400, "o": 1}, {"week": "Jun 1", "engine": "Trino", "queries": 2290, "o": 2}, {"week": "Jun 1", "engine": "Spark", "queries": 910, "o": 3},
                    {"week": "Jun 8", "engine": "Athena", "queries": 3550, "o": 1}, {"week": "Jun 8", "engine": "Trino", "queries": 2380, "o": 2}, {"week": "Jun 8", "engine": "Spark", "queries": 960, "o": 3},
                    {"week": "Jun 15", "engine": "Athena", "queries": 3700, "o": 1}, {"week": "Jun 15", "engine": "Trino", "queries": 2430, "o": 2}, {"week": "Jun 15", "engine": "Spark", "queries": 1000, "o": 3},
                    {"week": "Jun 22", "engine": "Athena", "queries": 3650, "o": 1}, {"week": "Jun 22", "engine": "Trino", "queries": 2550, "o": 2}, {"week": "Jun 22", "engine": "Spark", "queries": 1010, "o": 3},
                    {"week": "Jun 29", "engine": "Athena", "queries": 3850, "o": 1}, {"week": "Jun 29", "engine": "Trino", "queries": 2640, "o": 2}, {"week": "Jun 29", "engine": "Spark", "queries": 1050, "o": 3},
                    {"week": "Jul 6", "engine": "Athena", "queries": 3970, "o": 1}, {"week": "Jul 6", "engine": "Trino", "queries": 2750, "o": 2}, {"week": "Jul 6", "engine": "Spark", "queries": 1080, "o": 3},
                    {"week": "Jul 13", "engine": "Athena", "queries": 4100, "o": 1}, {"week": "Jul 13", "engine": "Trino", "queries": 2830, "o": 2}, {"week": "Jul 13", "engine": "Spark", "queries": 1100, "o": 3},
                    {"week": "Jul 20", "engine": "Athena", "queries": 4220, "o": 1}, {"week": "Jul 20", "engine": "Trino", "queries": 2910, "o": 2}, {"week": "Jul 20", "engine": "Spark", "queries": 1140, "o": 3}
                  ]},
                  "encoding": {
                    "x": {"field": "week", "type": "nominal", "sort": null, "title": "Week of", "scale": {"range": [148, 1305], "paddingInner": 0.32, "paddingOuter": 0.16}, "axis": {"offset": -147}}
                  },
                  "layer": [
                    {
                      "mark": {"type": "bar"},
                      "encoding": {
                        "y": {"field": "queries", "type": "quantitative", "title": "Queries", "scale": {"domain": [0, 10000], "range": [487, 143]}, "axis": {"values": [0, 2000, 4000, 6000, 8000, 10000], "format": ",d", "offset": -148}},
                        "color": {"field": "engine", "type": "nominal", "scale": {"domain": ["Athena", "Trino", "Spark"], "range": ["#509ee3", "#a989c5", "#f2a86f"]}, "legend": {"title": null, "orient": "none", "direction": "horizontal", "legendX": 32, "legendY": 75}},
                        "order": {"field": "o"}
                      }
                    },
                    {
                      "transform": [{"aggregate": [{"op": "sum", "field": "queries", "as": "total"}], "groupby": ["week"]}],
                      "mark": {"type": "text", "dy": -25, "fontSize": 24, "fontWeight": 700, "color": "#2e353b"},
                      "encoding": {
                        "y": {"field": "total", "type": "quantitative"},
                        "text": {"field": "total", "type": "quantitative", "format": ","}
                      }
                    }
                  ]
                },
                {
                  "data": {"values": [{"menu": "···"}]},
                  "mark": {"type": "text", "fontSize": 26, "color": "#949aab"},
                  "encoding": {
                    "text": {"field": "menu"},
                    "x": {"datum": 0.9678, "scale": {"domain": [0, 1], "range": [0, 1365]}, "axis": null},
                    "y": {"datum": 0.0678, "scale": {"domain": [0, 1], "range": [0, 634]}, "axis": null}
                  }
                }
              ]
            },
            {
              "title": {"text": "TB scanned per day by engine", "dy": 62},
              "width": 1365, "height": 634,
              "view": {"fill": "#ffffff", "stroke": "#e4e6e8", "strokeWidth": 3, "cornerRadius": 16},
              "resolve": {"scale": {"x": "independent", "y": "independent"}},
              "layer": [
                {
                  "data": {"values": [
                    {"day": "Jun 29", "Athena": 78, "Trino": 40, "Spark": 15},
                    {"day": "Jun 30", "Athena": 80, "Trino": 41, "Spark": 16},
                    {"day": "Jul 1", "Athena": 79, "Trino": 42, "Spark": 17},
                    {"day": "Jul 2", "Athena": 82, "Trino": 41, "Spark": 16},
                    {"day": "Jul 3", "Athena": 81, "Trino": 43, "Spark": 18},
                    {"day": "Jul 4", "Athena": 68, "Trino": 36, "Spark": 14},
                    {"day": "Jul 5", "Athena": 66, "Trino": 35, "Spark": 13},
                    {"day": "Jul 6", "Athena": 83, "Trino": 43, "Spark": 17},
                    {"day": "Jul 7", "Athena": 85, "Trino": 44, "Spark": 18},
                    {"day": "Jul 8", "Athena": 84, "Trino": 43, "Spark": 19},
                    {"day": "Jul 9", "Athena": 86, "Trino": 45, "Spark": 18},
                    {"day": "Jul 10", "Athena": 88, "Trino": 46, "Spark": 20},
                    {"day": "Jul 11", "Athena": 72, "Trino": 38, "Spark": 15},
                    {"day": "Jul 12", "Athena": 70, "Trino": 37, "Spark": 14},
                    {"day": "Jul 13", "Athena": 87, "Trino": 45, "Spark": 19},
                    {"day": "Jul 14", "Athena": 89, "Trino": 46, "Spark": 20},
                    {"day": "Jul 15", "Athena": 88, "Trino": 47, "Spark": 21},
                    {"day": "Jul 16", "Athena": 91, "Trino": 48, "Spark": 22},
                    {"day": "Jul 17", "Athena": 90, "Trino": 47, "Spark": 21},
                    {"day": "Jul 18", "Athena": 76, "Trino": 40, "Spark": 17},
                    {"day": "Jul 19", "Athena": 74, "Trino": 39, "Spark": 16},
                    {"day": "Jul 20", "Athena": 90, "Trino": 48, "Spark": 21},
                    {"day": "Jul 21", "Athena": 92, "Trino": 49, "Spark": 23},
                    {"day": "Jul 22", "Athena": 91, "Trino": 50, "Spark": 22},
                    {"day": "Jul 23", "Athena": 94, "Trino": 51, "Spark": 24},
                    {"day": "Jul 24", "Athena": 95, "Trino": 52, "Spark": 25},
                    {"day": "Jul 25", "Athena": 80, "Trino": 43, "Spark": 19},
                    {"day": "Jul 26", "Athena": 78, "Trino": 42, "Spark": 18}
                  ]},
                  "transform": [{"fold": ["Athena", "Trino", "Spark"], "as": ["engine", "tb"]}],
                  "mark": {"type": "line", "strokeWidth": 5},
                  "encoding": {
                    "x": {"field": "day", "type": "ordinal", "sort": null, "title": "Day", "scale": {"type": "point", "range": [149, 1305], "padding": 0.395}, "axis": {"values": ["Jun 29", "Jul 6", "Jul 13", "Jul 20", "Jul 26"], "offset": -147}},
                    "y": {"field": "tb", "type": "quantitative", "title": "TB scanned", "scale": {"domain": [0, 100], "range": [487, 143]}, "axis": {"values": [0, 20, 40, 60, 80, 100], "offset": -149}},
                    "color": {"field": "engine", "type": "nominal", "scale": {"domain": ["Athena", "Trino", "Spark"], "range": ["#509ee3", "#a989c5", "#f2a86f"]}, "legend": {"title": null, "orient": "none", "direction": "horizontal", "legendX": 32, "legendY": 75, "symbolType": "circle", "symbolSize": 60, "symbolStrokeWidth": 9}}
                  }
                },
                {
                  "data": {"values": [{"menu": "···"}]},
                  "mark": {"type": "text", "fontSize": 26, "color": "#949aab"},
                  "encoding": {
                    "text": {"field": "menu"},
                    "x": {"datum": 0.9678, "scale": {"domain": [0, 1], "range": [0, 1365]}, "axis": null},
                    "y": {"datum": 0.0678, "scale": {"domain": [0, 1], "range": [0, 634]}, "axis": null}
                  }
                }
              ]
            }
          ]
        },
        {
          "spacing": 16,
          "resolve": {"scale": {"color": "independent"}, "legend": {"color": "independent"}},
          "hconcat": [
            {
              "title": {"text": "Storage cost by tier, monthly", "dy": 62},
              "width": 1134, "height": 634,
              "view": {"fill": "#ffffff", "stroke": "#e4e6e8", "strokeWidth": 3, "cornerRadius": 16},
              "resolve": {"scale": {"x": "independent", "y": "independent"}},
              "layer": [
                {
                  "data": {"values": [
                    {"month": "Feb", "tier": "Standard", "cost": 4300, "o": 1}, {"month": "Feb", "tier": "Infrequent Access", "cost": 1100, "o": 2}, {"month": "Feb", "tier": "Glacier", "cost": 490, "o": 3},
                    {"month": "Mar", "tier": "Standard", "cost": 4600, "o": 1}, {"month": "Mar", "tier": "Infrequent Access", "cost": 1160, "o": 2}, {"month": "Mar", "tier": "Glacier", "cost": 510, "o": 3},
                    {"month": "Apr", "tier": "Standard", "cost": 4880, "o": 1}, {"month": "Apr", "tier": "Infrequent Access", "cost": 1240, "o": 2}, {"month": "Apr", "tier": "Glacier", "cost": 540, "o": 3},
                    {"month": "May", "tier": "Standard", "cost": 5180, "o": 1}, {"month": "May", "tier": "Infrequent Access", "cost": 1310, "o": 2}, {"month": "May", "tier": "Glacier", "cost": 560, "o": 3},
                    {"month": "Jun", "tier": "Standard", "cost": 5540, "o": 1}, {"month": "Jun", "tier": "Infrequent Access", "cost": 1360, "o": 2}, {"month": "Jun", "tier": "Glacier", "cost": 600, "o": 3},
                    {"month": "Jul", "tier": "Standard", "cost": 5900, "o": 1}, {"month": "Jul", "tier": "Infrequent Access", "cost": 1430, "o": 2}, {"month": "Jul", "tier": "Glacier", "cost": 620, "o": 3}
                  ]},
                  "mark": {"type": "bar"},
                  "encoding": {
                    "x": {"field": "month", "type": "nominal", "sort": null, "title": "Month (2026)", "scale": {"range": [148, 1073], "paddingInner": 0.32, "paddingOuter": 0.16}, "axis": {"offset": -147}},
                    "y": {"field": "cost", "type": "quantitative", "title": "Cost", "scale": {"domain": [0, 10000], "range": [487, 143]}, "axis": {"values": [0, 2000, 4000, 6000, 8000, 10000], "format": "$,d", "offset": -148}},
                    "color": {"field": "tier", "type": "nominal", "scale": {"domain": ["Standard", "Infrequent Access", "Glacier"], "range": ["#509ee3", "#98d9d9", "#7172ad"]}, "legend": {"title": null, "orient": "none", "direction": "horizontal", "legendX": 32, "legendY": 75}},
                    "order": {"field": "o"}
                  }
                },
                {
                  "data": {"values": [{"menu": "···"}]},
                  "mark": {"type": "text", "fontSize": 26, "color": "#949aab"},
                  "encoding": {
                    "text": {"field": "menu"},
                    "x": {"datum": 0.9612, "scale": {"domain": [0, 1], "range": [0, 1134]}, "axis": null},
                    "y": {"datum": 0.0678, "scale": {"domain": [0, 1], "range": [0, 634]}, "axis": null}
                  }
                }
              ]
            },
            {
              "title": {"text": "Compaction candidates", "dy": 62},
              "width": 1595, "height": 634,
              "view": {"fill": "#ffffff", "stroke": "#e4e6e8", "strokeWidth": 3, "cornerRadius": 16},
              "resolve": {"scale": {"x": "independent", "y": "independent"}},
              "layer": [
                {
                  "data": {"values": [
                    {"Table": "Table", "Files": "Files", "TB": "TB", "Avg": "Avg file (MB)", "Under": "< 128 MB", "Partitions": "Partitions"},
                    {"Table": "clickstream_raw", "Files": "21.4M", "TB": "85.6", "Avg": "4.0", "Under": "98%", "Partitions": "1,830"},
                    {"Table": "iot_telemetry", "Files": "9.8M", "TB": "41.2", "Avg": "4.2", "Under": "94%", "Partitions": "2,190"},
                    {"Table": "cdc_orders", "Files": "4.1M", "TB": "18.9", "Avg": "4.6", "Under": "81%", "Partitions": "730"},
                    {"Table": "app_logs", "Files": "3.6M", "TB": "22.4", "Avg": "6.2", "Under": "76%", "Partitions": "365"},
                    {"Table": "events_compacted", "Files": "0.4M", "TB": "96.1", "Avg": "240.3", "Under": "3%", "Partitions": "912"}
                  ]},
                  "encoding": {
                    "y": {"field": "Table", "type": "nominal", "sort": null, "scale": {"domain": ["Table", "clickstream_raw", "iot_telemetry", "cdc_orders", "app_logs", "events_compacted"], "range": [72, 469], "paddingInner": 0, "paddingOuter": 0}, "axis": null}
                  },
                  "layer": [
                    {
                      "transform": [{"filter": "datum.Table !== 'Table'"}],
                      "layer": [
                        {"mark": {"type": "rule", "color": "#eeeff0", "strokeWidth": 3}, "encoding": {"y": {"field": "Table", "type": "nominal", "sort": null, "bandPosition": 1}, "x": {"datum": 0, "scale": {"domain": [0, 100], "range": [32, 1563]}, "axis": null}, "x2": {"datum": 100}}},
                        {"mark": {"type": "text", "align": "left", "fontSize": 27, "color": "#509ee3"}, "encoding": {"text": {"field": "Table"}, "x": {"datum": 0}}},
                        {"mark": {"type": "text", "align": "right", "fontSize": 27, "color": "#3f4a54"}, "encoding": {"text": {"field": "Files"}, "x": {"datum": 41.67}}},
                        {"mark": {"type": "text", "align": "right", "fontSize": 27, "color": "#3f4a54"}, "encoding": {"text": {"field": "TB"}, "x": {"datum": 49.5}}},
                        {"mark": {"type": "text", "align": "right", "fontSize": 27, "color": "#3f4a54"}, "encoding": {"text": {"field": "Avg"}, "x": {"datum": 69.1}}},
                        {"mark": {"type": "text", "align": "right", "fontSize": 27, "color": "#3f4a54"}, "encoding": {"text": {"field": "Under"}, "x": {"datum": 84.06}}},
                        {"mark": {"type": "text", "align": "right", "fontSize": 27, "color": "#3f4a54"}, "encoding": {"text": {"field": "Partitions"}, "x": {"datum": 99.48}}}
                      ]
                    },
                    {
                      "transform": [{"filter": "datum.Table === 'Table'"}],
                      "layer": [
                        {"mark": {"type": "rule", "color": "#dfe2e5", "strokeWidth": 4}, "encoding": {"y": {"field": "Table", "type": "nominal", "sort": null, "bandPosition": 1}, "x": {"datum": 0}, "x2": {"datum": 100}}},
                        {"mark": {"type": "text", "align": "left", "dy": 4, "fontSize": 24, "fontWeight": 700, "color": "#6b7580"}, "encoding": {"text": {"field": "Table"}, "x": {"datum": 0}}},
                        {"mark": {"type": "text", "align": "right", "dy": 4, "fontSize": 24, "fontWeight": 700, "color": "#6b7580"}, "encoding": {"text": {"field": "Files"}, "x": {"datum": 41.67}}},
                        {"mark": {"type": "text", "align": "right", "dy": 4, "fontSize": 24, "fontWeight": 700, "color": "#6b7580"}, "encoding": {"text": {"field": "TB"}, "x": {"datum": 49.5}}},
                        {"mark": {"type": "text", "align": "right", "dy": 4, "fontSize": 24, "fontWeight": 700, "color": "#6b7580"}, "encoding": {"text": {"field": "Avg"}, "x": {"datum": 69.1}}},
                        {"mark": {"type": "text", "align": "right", "dy": 4, "fontSize": 24, "fontWeight": 700, "color": "#6b7580"}, "encoding": {"text": {"field": "Under"}, "x": {"datum": 84.06}}},
                        {"mark": {"type": "text", "align": "right", "dy": 4, "fontSize": 24, "fontWeight": 700, "color": "#6b7580"}, "encoding": {"text": {"field": "Partitions"}, "x": {"datum": 99.48}}}
                      ]
                    }
                  ]
                },
                {
                  "data": {"values": [{"menu": "···", "rows": "38 rows"}]},
                  "encoding": {
                    "x": {"datum": 1, "scale": {"domain": [0, 1], "range": [0, 1563]}, "axis": null}
                  },
                  "layer": [
                    {"mark": {"type": "text", "align": "right", "fontSize": 24, "color": "#6b7580"}, "encoding": {"text": {"field": "rows"}, "y": {"datum": 1, "scale": {"domain": [0, 1], "range": [0, 600]}, "axis": null}}},
                    {"mark": {"type": "text", "fontSize": 26, "color": "#949aab"}, "encoding": {"text": {"field": "menu"}, "x": {"datum": 0.9924}, "y": {"datum": 0.0717}}}
                  ]
                }
              ]
            }
          ]
        }
      ]
    }
  ]
}
